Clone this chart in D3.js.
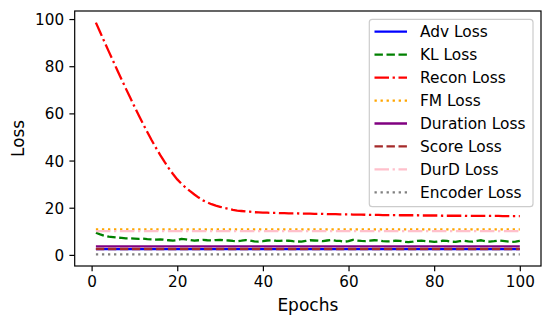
<!DOCTYPE html>
<html>
<head>
<meta charset="utf-8">
<script src="https://cdn.jsdelivr.net/npm/d3@7"></script>
<style>
  body { margin: 0; background: #fff; }
  svg text { font-family: "DejaVu Sans", sans-serif; fill: #000; }
</style>
</head>
<body>
<div id="chart"></div>
<script>
// loss curves per epoch

var epochs = d3.range(1, 101);

var advLoss = [
  2.4, 2.4, 2.4, 2.4, 2.4, 2.4, 2.4, 2.4, 2.4, 2.4,
  2.4, 2.4, 2.4, 2.4, 2.4, 2.4, 2.4, 2.4, 2.4, 2.4,
  2.4, 2.4, 2.4, 2.4, 2.4, 2.4, 2.4, 2.4, 2.4, 2.4,
  2.4, 2.4, 2.4, 2.4, 2.4, 2.4, 2.4, 2.4, 2.4, 2.4,
  2.4, 2.4, 2.4, 2.4, 2.4, 2.4, 2.4, 2.4, 2.4, 2.4,
  2.4, 2.4, 2.4, 2.4, 2.4, 2.4, 2.4, 2.4, 2.4, 2.4,
  2.4, 2.4, 2.4, 2.4, 2.4, 2.4, 2.4, 2.4, 2.4, 2.4,
  2.4, 2.4, 2.4, 2.4, 2.4, 2.4, 2.4, 2.4, 2.4, 2.4,
  2.4, 2.4, 2.4, 2.4, 2.4, 2.4, 2.4, 2.4, 2.4, 2.4,
  2.4, 2.4, 2.4, 2.4, 2.4, 2.4, 2.4, 2.4, 2.4, 2.4
];

var klLoss = [
  9.4, 8.7, 8.1, 7.7, 7.5, 7.3, 7.2, 7.0, 7.0, 6.9,
  6.8, 6.9, 6.7, 6.6, 6.5, 6.6, 6.4, 6.2, 6.0, 6.2,
  6.8, 6.6, 6.3, 6.0, 6.2, 6.4, 6.2, 6.1, 6.3, 6.4,
  6.2, 6.1, 5.9, 5.8, 6.0, 6.3, 6.1, 5.7, 5.6, 5.8,
  6.1, 6.2, 6.0, 5.9, 6.1, 6.0, 5.8, 5.7, 5.6, 5.9,
  6.2, 6.1, 6.0, 5.8, 6.1, 6.3, 6.0, 5.9, 5.6, 5.8,
  6.4, 6.1, 5.9, 5.8, 6.0, 6.2, 6.1, 5.8, 5.7, 5.8,
  6.0, 5.9, 5.6, 5.4, 5.6, 5.9, 6.0, 5.8, 5.7, 5.5,
  5.7, 6.0, 5.9, 5.6, 5.5, 5.8, 6.0, 5.7, 5.6, 5.9,
  6.2, 5.8, 5.6, 5.8, 6.1, 5.9, 5.7, 5.5, 5.6, 5.9
];

var reconLoss = [
  98.5, 94.4, 90.3, 86.3, 82.3, 78.3, 74.4, 70.5, 66.7, 62.9,
  59.2, 55.6, 52.1, 48.7, 45.5, 42.4, 39.5, 36.8, 34.3, 32.0,
  30.1, 28.5, 27.0, 25.6, 24.3, 23.1, 22.3, 21.5, 20.9, 20.4,
  19.9, 19.5, 19.1, 18.8, 18.6, 18.4, 18.3, 18.1, 18.0, 17.9,
  17.9, 17.8, 17.8, 17.7, 17.7, 17.6, 17.6, 17.6, 17.5, 17.5,
  17.5, 17.4, 17.4, 17.4, 17.3, 17.3, 17.3, 17.2, 17.2, 17.2,
  17.1, 17.1, 17.1, 17.0, 17.0, 17.0, 17.0, 16.9, 16.9, 16.9,
  16.9, 16.8, 16.8, 16.8, 16.8, 16.8, 16.7, 16.7, 16.7, 16.7,
  16.7, 16.6, 16.6, 16.6, 16.6, 16.6, 16.6, 16.5, 16.5, 16.5,
  16.5, 16.5, 16.5, 16.5, 16.5, 16.4, 16.4, 16.4, 16.4, 16.4
];

var fmLoss = [
  10.8, 10.8, 10.8, 10.8, 10.8, 10.8, 10.8, 10.8, 10.8, 10.8,
  10.8, 10.8, 10.8, 10.8, 10.8, 10.8, 10.8, 10.8, 10.8, 10.8,
  10.8, 10.8, 10.8, 10.8, 10.8, 10.8, 10.8, 10.8, 10.8, 10.8,
  10.8, 10.8, 10.8, 10.8, 10.8, 10.8, 10.8, 10.8, 10.8, 10.8,
  10.8, 10.8, 10.8, 10.8, 10.8, 10.8, 10.8, 10.8, 10.8, 10.8,
  10.8, 10.8, 10.8, 10.8, 10.8, 10.8, 10.8, 10.8, 10.8, 10.8,
  10.8, 10.8, 10.8, 10.8, 10.8, 10.8, 10.8, 10.8, 10.8, 10.8,
  10.8, 10.8, 10.8, 10.8, 10.8, 10.8, 10.8, 10.8, 10.8, 10.8,
  10.8, 10.8, 10.8, 10.8, 10.8, 10.8, 10.8, 10.8, 10.8, 10.8,
  10.8, 10.8, 10.8, 10.8, 10.8, 10.8, 10.8, 10.8, 10.8, 10.8
];

var durationLoss = [
  3.6, 3.6, 3.6, 3.6, 3.6, 3.6, 3.6, 3.6, 3.6, 3.6,
  3.6, 3.6, 3.6, 3.6, 3.6, 3.6, 3.6, 3.6, 3.6, 3.6,
  3.6, 3.6, 3.6, 3.6, 3.6, 3.6, 3.6, 3.6, 3.6, 3.6,
  3.6, 3.6, 3.6, 3.6, 3.6, 3.6, 3.6, 3.6, 3.6, 3.6,
  3.6, 3.6, 3.6, 3.6, 3.6, 3.6, 3.6, 3.6, 3.6, 3.6,
  3.6, 3.6, 3.6, 3.6, 3.6, 3.6, 3.6, 3.6, 3.6, 3.6,
  3.6, 3.6, 3.6, 3.6, 3.6, 3.6, 3.6, 3.6, 3.6, 3.6,
  3.6, 3.6, 3.6, 3.6, 3.6, 3.6, 3.6, 3.6, 3.6, 3.6,
  3.6, 3.6, 3.6, 3.6, 3.6, 3.6, 3.6, 3.6, 3.6, 3.6,
  3.6, 3.6, 3.6, 3.6, 3.6, 3.6, 3.6, 3.6, 3.6, 3.6
];

var scoreLoss = [
  2.5, 2.5, 2.5, 2.5, 2.5, 2.5, 2.5, 2.5, 2.5, 2.5,
  2.5, 2.5, 2.5, 2.5, 2.5, 2.5, 2.5, 2.5, 2.5, 2.5,
  2.5, 2.5, 2.5, 2.5, 2.5, 2.5, 2.5, 2.5, 2.5, 2.5,
  2.5, 2.5, 2.5, 2.5, 2.5, 2.5, 2.5, 2.5, 2.5, 2.5,
  2.5, 2.5, 2.5, 2.5, 2.5, 2.5, 2.5, 2.5, 2.5, 2.5,
  2.5, 2.5, 2.5, 2.5, 2.5, 2.5, 2.5, 2.5, 2.5, 2.5,
  2.5, 2.5, 2.5, 2.5, 2.5, 2.5, 2.5, 2.5, 2.5, 2.5,
  2.5, 2.5, 2.5, 2.5, 2.5, 2.5, 2.5, 2.5, 2.5, 2.5,
  2.5, 2.5, 2.5, 2.5, 2.5, 2.5, 2.5, 2.5, 2.5, 2.5,
  2.5, 2.5, 2.5, 2.5, 2.5, 2.5, 2.5, 2.5, 2.5, 2.5
];

var durdLoss = [
  10.1, 10.1, 10.1, 10.1, 10.1, 10.1, 10.1, 10.1, 10.1, 10.1,
  10.1, 10.1, 10.1, 10.1, 10.1, 10.1, 10.1, 10.1, 10.1, 10.1,
  10.1, 10.1, 10.1, 10.1, 10.1, 10.1, 10.1, 10.1, 10.1, 10.1,
  10.1, 10.1, 10.1, 10.1, 10.1, 10.1, 10.1, 10.1, 10.1, 10.1,
  10.1, 10.1, 10.1, 10.1, 10.1, 10.1, 10.1, 10.1, 10.1, 10.1,
  10.1, 10.1, 10.1, 10.1, 10.1, 10.1, 10.1, 10.1, 10.1, 10.1,
  10.1, 10.1, 10.1, 10.1, 10.1, 10.1, 10.1, 10.1, 10.1, 10.1,
  10.1, 10.1, 10.1, 10.1, 10.1, 10.1, 10.1, 10.1, 10.1, 10.1,
  10.1, 10.1, 10.1, 10.1, 10.1, 10.1, 10.1, 10.1, 10.1, 10.1,
  10.1, 10.1, 10.1, 10.1, 10.1, 10.1, 10.1, 10.1, 10.1, 10.1
];

var encoderLoss = [
  0.2, 0.2, 0.2, 0.2, 0.2, 0.2, 0.2, 0.2, 0.2, 0.2,
  0.2, 0.2, 0.2, 0.2, 0.2, 0.2, 0.2, 0.2, 0.2, 0.2,
  0.2, 0.2, 0.2, 0.2, 0.2, 0.2, 0.2, 0.2, 0.2, 0.2,
  0.2, 0.2, 0.2, 0.2, 0.2, 0.2, 0.2, 0.2, 0.2, 0.2,
  0.2, 0.2, 0.2, 0.2, 0.2, 0.2, 0.2, 0.2, 0.2, 0.2,
  0.2, 0.2, 0.2, 0.2, 0.2, 0.2, 0.2, 0.2, 0.2, 0.2,
  0.2, 0.2, 0.2, 0.2, 0.2, 0.2, 0.2, 0.2, 0.2, 0.2,
  0.2, 0.2, 0.2, 0.2, 0.2, 0.2, 0.2, 0.2, 0.2, 0.2,
  0.2, 0.2, 0.2, 0.2, 0.2, 0.2, 0.2, 0.2, 0.2, 0.2,
  0.2, 0.2, 0.2, 0.2, 0.2, 0.2, 0.2, 0.2, 0.2, 0.2
];

var seriesNames = ["Adv Loss", "KL Loss", "Recon Loss", "FM Loss",
  "Duration Loss", "Score Loss", "DurD Loss", "Encoder Loss"];
var seriesValues = [advLoss, klLoss, reconLoss, fmLoss,
  durationLoss, scoreLoss, durdLoss, encoderLoss];

var xTicks = [0, 20, 40, 60, 80, 100];
var yTicks = [0, 20, 40, 60, 80, 100];

// matplotlib-ish styles, lw 1.5pt ~ 2.3px here
var lw = 2.3;
var styles = [
  { color: "blue", dash: null },
  { color: "green", dash: [8.4, 3.6] },
  { color: "red", dash: [14.5, 3.6, 2.3, 3.6] },
  { color: "orange", dash: [2.3, 3.74] },
  { color: "purple", dash: null },
  { color: "brown", dash: [8.4, 3.6] },
  { color: "pink", dash: [14.5, 3.6, 2.3, 3.6] },
  { color: "gray", dash: [2.3, 3.74] }
];

var width = 552, height = 326;
var margin = { left: 74.7, right: 11, top: 11, bottom: 60 };
var plotW = width - margin.left - margin.right;
var plotH = height - margin.top - margin.bottom;

var svg = d3.select("#chart").append("svg")
  .attr("width", width)
  .attr("height", height);

// 5% padding like matplotlib autoscale
var xMin = d3.min(epochs), xMax = d3.max(epochs);
var xPad = (xMax - xMin) * 0.05;
var allVals = d3.merge(seriesValues);
var yMin = d3.min(allVals), yMax = d3.max(allVals);
var yPad = (yMax - yMin) * 0.05;

var x = d3.scaleLinear()
  .domain([xMin - xPad, xMax + xPad])
  .range([margin.left, margin.left + plotW]);

var y = d3.scaleLinear()
  .domain([yMin - yPad, yMax + yPad])
  .range([margin.top + plotH, margin.top]);

var line = d3.line()
  .x(function(d, i) { return x(epochs[i]); })
  .y(function(d) { return y(d); });

var lines = svg.append("g").attr("class", "lines");
seriesValues.forEach(function(vals, i) {
  lines.append("path")
    .datum(vals)
    .attr("d", line)
    .attr("fill", "none")
    .attr("stroke", styles[i].color)
    .attr("stroke-width", lw)
    .attr("stroke-linejoin", "round")
    .attr("stroke-dasharray", styles[i].dash ? styles[i].dash.join(",") : null);
});

// axes
var xAxis = svg.append("g")
  .attr("transform", "translate(0," + (margin.top + plotH) + ")")
  .call(d3.axisBottom(x).tickValues(xTicks).tickSize(5.3).tickPadding(5.3));

var yAxis = svg.append("g")
  .attr("transform", "translate(" + margin.left + ",0)")
  .call(d3.axisLeft(y).tickValues(yTicks).tickSize(5.3).tickPadding(5.3));

[xAxis, yAxis].forEach(function(a) {
  a.select(".domain").remove();
  a.selectAll(".tick line").attr("stroke", "#000").attr("stroke-width", 1.2);
  a.selectAll(".tick text")
    .style("font-family", "'DejaVu Sans', sans-serif")
    .style("font-size", "15.2px")
    .attr("fill", "#000");
});
yAxis.selectAll(".tick text").attr("dy", "0.36em");

// frame
svg.append("rect")
  .attr("x", margin.left)
  .attr("y", margin.top)
  .attr("width", plotW)
  .attr("height", plotH)
  .attr("fill", "none")
  .attr("stroke", "#000")
  .attr("stroke-width", 1.2);

// axis labels
svg.append("text")
  .attr("x", margin.left + plotW / 2)
  .attr("y", 310.5)
  .attr("text-anchor", "middle")
  .style("font-size", "17px")
  .text("Epochs");

svg.append("text")
  .attr("transform", "translate(24," + (margin.top + plotH / 2) + ") rotate(-90)")
  .attr("text-anchor", "middle")
  .style("font-size", "16.8px")
  .text("Loss");

// legend
var legend = svg.append("g").attr("class", "legend");
legend.append("rect")
  .attr("x", 369.3)
  .attr("y", 19.3)
  .attr("width", 163.7)
  .attr("height", 187.4)
  .attr("rx", 3)
  .attr("fill", "#fff")
  .attr("fill-opacity", 0.8)
  .attr("stroke", "#cccccc")
  .attr("stroke-width", 1.2);

seriesNames.forEach(function(name, i) {
  var cy = 31.7 + i * 22.95;
  legend.append("line")
    .attr("x1", 374.5)
    .attr("x2", 407)
    .attr("y1", cy)
    .attr("y2", cy)
    .attr("stroke", styles[i].color)
    .attr("stroke-width", lw)
    .attr("stroke-dasharray", styles[i].dash ? styles[i].dash.join(",") : null);
  legend.append("text")
    .attr("x", 420)
    .attr("y", cy)
    .attr("dy", "0.34em")
    .style("font-size", "15.4px")
    .text(name);
});
</script>
</body>
</html>
